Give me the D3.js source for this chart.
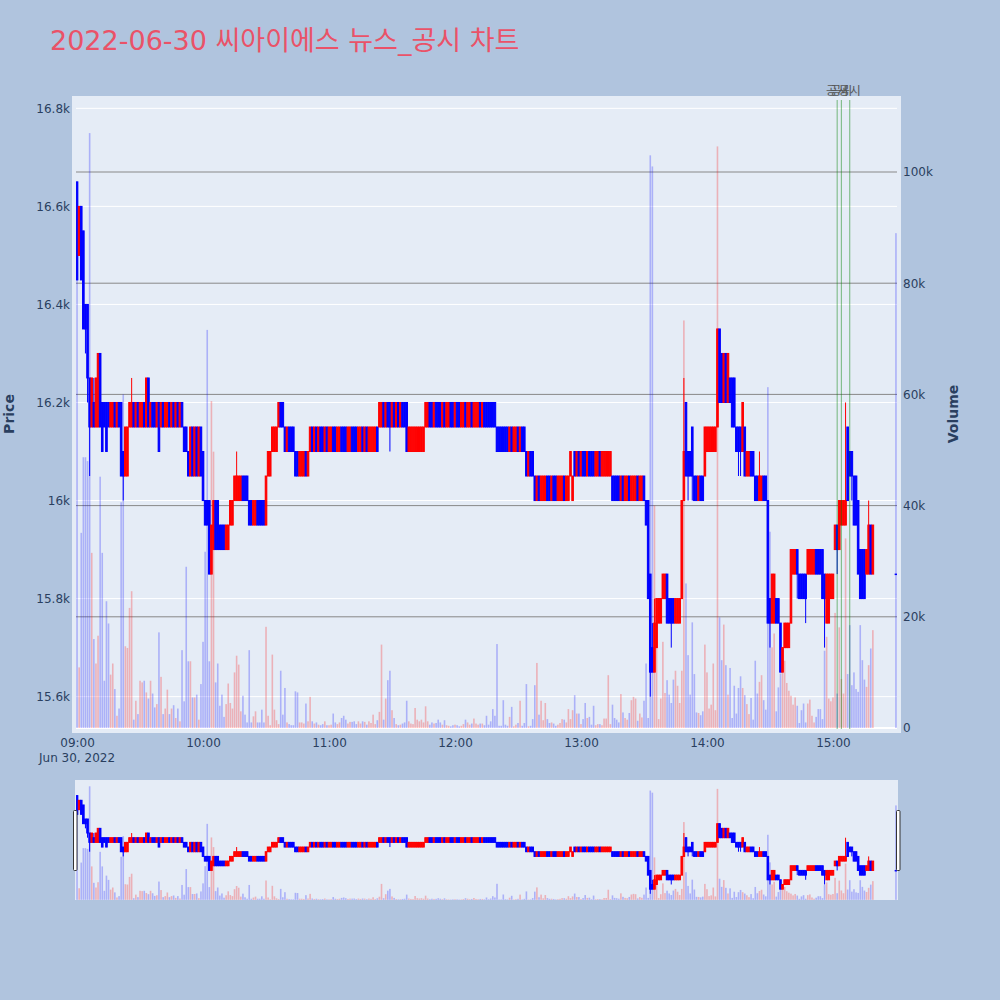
<!DOCTYPE html>
<html>
<head>
<meta charset="utf-8">
<script src="https://cdn.jsdelivr.net/npm/d3@7"></script>
<style>
  body { margin: 0; background: #b0c4de; }
  svg { display: block; font-family: "DejaVu Sans", "Noto Sans CJK KR", sans-serif; }
</style>
</head>
<body>
<div id="chart"></div>
<script>
// one candle per trading minute from 09:00 to 15:19, then the 15:30 closing auction
const opens = [
16650,16500,16600,16550,16400,16400,16250,16150,16200,16150,
16150,16300,16200,16200,16200,16200,16150,16150,16200,16150,
16200,16200,16100,16050,16050,16150,16150,16200,16150,16200,
16150,16150,16200,16150,16250,16150,16200,16200,16150,16200,
16150,16200,16150,16150,16200,16150,16200,16150,16200,16150,
16200,16150,16150,16100,16050,16150,16050,16150,16050,16150,
16100,16000,16000,16000,15850,15900,16000,16000,15950,15950,
15950,15900,15900,15950,15950,16000,16000,16000,16000,16050,
16050,16050,16000,16000,15950,15950,16000,16000,16000,16000,
15950,16050,16050,16100,16100,16100,16150,16200,16200,16150,
16100,16150,16150,16150,16100,16100,16050,16050,16050,16100,
16050,16100,16150,16100,16150,16100,16150,16150,16100,16150,
16100,16100,16150,16150,16100,16100,16150,16150,16150,16100,
16100,16150,16150,16150,16100,16100,16150,16100,16150,16100,
16100,16100,16100,16150,16150,16150,16200,16150,16200,16200,
16150,16200,16150,16200,16150,16200,16200,16200,16100,16100,
16100,16100,16100,16100,16100,16100,16150,16150,16200,16200,
16150,16200,16200,16200,16150,16200,16150,16150,16200,16200,
16150,16200,16200,16150,16150,16200,16150,16150,16200,16150,
16150,16150,16200,16150,16200,16200,16200,16200,16200,16200,
16150,16150,16150,16150,16150,16150,16100,16150,16100,16100,
16150,16100,16150,16150,16100,16050,16100,16100,16050,16000,
16050,16000,16000,16000,16050,16050,16000,16050,16050,16000,
16000,16000,16050,16000,16000,16050,16000,16100,16050,16100,
16050,16100,16100,16050,16100,16100,16100,16050,16050,16100,
16050,16050,16050,16050,16050,16050,16050,16050,16050,16000,
16050,16000,16000,16050,16000,16000,16000,16050,16000,16000,
16050,16000,16000,15850,15700,15650,15700,15750,15750,15800,
15800,15850,15800,15800,15800,15750,15750,15750,15800,16000,
16200,16100,16100,16150,16050,16050,16000,16050,16050,16050,
16100,16100,16100,16100,16100,16150,16350,16300,16200,16300,
16200,16250,16250,16250,16150,16150,16150,16100,16150,16050,
16050,16100,16100,16050,16050,16000,16000,16050,16050,16000,
15800,15750,15750,15800,15800,15750,15650,15700,15700,15700,
15750,15850,15850,15900,15850,15850,15850,15850,15850,15850,
15850,15850,15900,15900,15900,15900,15850,15750,15750,15800,
15800,15900,15950,15900,15950,15950,15950,16150,16100,16100,
16050,16050,16000,15900,15900,15900,15850,15850,15950,15850,
15850
];
const highs = [
16650,16600,16600,16550,16400,16400,16250,16250,16250,16250,
16300,16300,16200,16200,16200,16200,16200,16200,16200,16200,
16200,16200,16100,16150,16150,16200,16250,16200,16200,16200,
16200,16200,16200,16250,16250,16200,16200,16200,16200,16200,
16200,16200,16200,16200,16200,16200,16200,16200,16200,16200,
16200,16150,16150,16100,16150,16150,16150,16150,16150,16150,
16100,16000,16000,16000,15950,16000,16000,16000,15950,15950,
15950,15950,15950,16000,16000,16050,16100,16050,16050,16050,
16050,16050,16000,16000,16000,16000,16000,16000,16000,16000,
16050,16100,16100,16150,16150,16150,16200,16200,16200,16150,
16150,16150,16150,16150,16100,16100,16100,16100,16100,16100,
16100,16150,16150,16150,16150,16150,16150,16150,16150,16150,
16150,16150,16150,16150,16150,16150,16150,16150,16150,16150,
16150,16150,16150,16150,16150,16150,16150,16150,16150,16150,
16150,16150,16150,16150,16200,16200,16200,16200,16200,16200,
16200,16200,16200,16200,16200,16200,16200,16200,16150,16150,
16150,16150,16150,16150,16150,16150,16200,16200,16200,16200,
16200,16200,16200,16200,16200,16200,16200,16200,16200,16200,
16200,16200,16200,16200,16200,16200,16200,16200,16200,16200,
16200,16200,16200,16200,16200,16200,16200,16200,16200,16200,
16150,16150,16150,16150,16150,16150,16150,16150,16150,16150,
16150,16150,16150,16150,16100,16100,16100,16100,16050,16050,
16050,16050,16050,16050,16050,16050,16050,16050,16050,16050,
16050,16050,16050,16050,16050,16100,16050,16100,16100,16100,
16100,16100,16100,16100,16100,16100,16100,16100,16100,16100,
16100,16100,16100,16100,16100,16050,16050,16050,16050,16050,
16050,16050,16050,16050,16050,16050,16050,16050,16050,16050,
16050,16000,16000,15850,15750,15800,15800,15800,15800,15850,
15850,15850,15800,15800,15800,15800,15800,15800,16000,16250,
16200,16100,16100,16150,16050,16050,16050,16050,16050,16150,
16150,16150,16150,16150,16150,16350,16350,16300,16300,16300,
16300,16250,16250,16250,16150,16150,16150,16200,16150,16100,
16100,16100,16100,16050,16050,16100,16050,16050,16050,16000,
15800,15850,15850,15800,15800,15750,15700,15750,15750,15750,
15900,15900,15900,15900,15850,15850,15850,15850,15900,15900,
15900,15900,15900,15900,15900,15900,15850,15850,15850,15850,
15850,15950,15950,16000,16000,16000,16200,16150,16100,16100,
16050,16050,16000,15900,15900,15900,15900,16000,15950,15950,
15850
];
const lows = [
16450,16500,16450,16350,16300,16200,16050,16150,16150,16150,
16150,16150,16100,16150,16100,16150,16150,16150,16150,16150,
16150,16050,16000,16050,16050,16150,16150,16150,16150,16150,
16150,16150,16150,16150,16150,16150,16150,16150,16150,16100,
16150,16150,16150,16150,16150,16150,16150,16150,16150,16150,
16150,16100,16100,16050,16050,16050,16050,16050,16050,16050,
16000,15950,15950,15850,15850,15900,15900,15900,15900,15900,
15900,15900,15900,15950,15950,16000,16000,16000,16000,16000,
16000,16000,15950,15950,15950,15950,15950,15950,15950,15950,
15950,16050,16050,16100,16100,16100,16150,16150,16150,16100,
16100,16100,16100,16100,16050,16050,16050,16050,16050,16050,
16050,16100,16100,16100,16100,16100,16100,16100,16100,16100,
16100,16100,16100,16100,16100,16100,16100,16100,16100,16100,
16100,16100,16100,16100,16100,16100,16100,16100,16100,16100,
16100,16100,16100,16100,16150,16150,16150,16150,16150,16100,
16150,16150,16150,16150,16150,16150,16150,16100,16100,16100,
16100,16100,16100,16100,16100,16100,16150,16150,16150,16150,
16150,16150,16150,16150,16150,16150,16150,16150,16150,16150,
16150,16150,16150,16150,16150,16150,16150,16150,16150,16150,
16150,16150,16150,16150,16150,16150,16150,16150,16150,16150,
16100,16100,16100,16100,16100,16100,16100,16100,16100,16100,
16100,16100,16100,16100,16050,16050,16050,16050,16000,16000,
16000,16000,16000,16000,16000,16000,16000,16000,16000,16000,
16000,16000,16000,16000,16000,16050,16000,16050,16050,16050,
16050,16050,16050,16050,16050,16050,16050,16050,16050,16050,
16050,16050,16050,16050,16050,16000,16000,16000,16000,16000,
16000,16000,16000,16000,16000,16000,16000,16000,16000,16000,
16000,15950,15800,15600,15650,15650,15700,15750,15750,15800,
15800,15750,15750,15700,15750,15750,15750,15750,15800,16000,
16050,16000,16050,16000,16000,16000,16000,16000,16000,16050,
16100,16100,16100,16100,16100,16150,16200,16200,16200,16200,
16200,16200,16150,16150,16100,16050,16050,16100,16050,16050,
16050,16050,16050,16000,16000,16000,16000,16000,16000,15750,
15700,15750,15750,15750,15750,15650,15650,15700,15700,15700,
15750,15850,15850,15800,15800,15800,15800,15750,15850,15850,
15850,15850,15850,15850,15850,15800,15700,15750,15750,15800,
15800,15900,15850,15900,15950,15950,15950,16000,16050,16000,
15950,15950,15850,15800,15800,15800,15850,15850,15850,15850,
15850
];
const closes = [
16450,16600,16450,16350,16350,16250,16150,16250,16150,16250,
16300,16150,16100,16150,16100,16150,16200,16200,16150,16200,
16150,16050,16050,16150,16150,16200,16200,16150,16200,16150,
16200,16200,16150,16250,16150,16200,16150,16150,16200,16100,
16200,16150,16200,16200,16150,16200,16150,16200,16150,16200,
16150,16100,16100,16050,16150,16050,16150,16050,16150,16050,
16000,15950,15950,15850,15950,16000,15900,15900,15900,15900,
15900,15950,15950,16000,16000,16050,16050,16050,16050,16000,
16000,16000,15950,15950,16000,16000,15950,15950,15950,15950,
16050,16100,16100,16150,16150,16150,16200,16150,16150,16100,
16150,16100,16100,16100,16050,16050,16100,16100,16100,16050,
16100,16150,16100,16150,16100,16150,16100,16100,16150,16100,
16150,16150,16100,16100,16150,16150,16100,16100,16100,16150,
16150,16100,16100,16100,16150,16150,16100,16150,16100,16150,
16150,16150,16150,16100,16200,16200,16150,16200,16150,16150,
16200,16150,16200,16150,16200,16150,16150,16100,16150,16150,
16150,16150,16150,16150,16150,16150,16200,16200,16150,16150,
16200,16150,16150,16150,16200,16150,16200,16200,16150,16150,
16200,16150,16150,16200,16200,16150,16200,16200,16150,16200,
16200,16200,16150,16200,16150,16150,16150,16150,16150,16150,
16100,16100,16100,16100,16100,16100,16150,16100,16150,16150,
16100,16150,16100,16100,16050,16100,16050,16050,16000,16050,
16000,16050,16050,16050,16000,16000,16050,16000,16000,16050,
16050,16050,16000,16050,16050,16100,16050,16050,16100,16050,
16100,16050,16050,16100,16050,16050,16050,16100,16100,16050,
16100,16100,16100,16100,16100,16000,16000,16000,16000,16050,
16000,16050,16050,16000,16050,16050,16050,16000,16050,16050,
16000,15950,15800,15650,15650,15750,15800,15800,15800,15850,
15850,15750,15750,15750,15750,15800,15800,15800,16000,16100,
16050,16050,16050,16050,16000,16000,16050,16000,16000,16150,
16150,16150,16150,16150,16150,16350,16200,16200,16300,16200,
16300,16200,16150,16150,16100,16100,16100,16200,16050,16100,
16100,16050,16050,16000,16000,16050,16050,16000,16000,15750,
15750,15850,15850,15750,15750,15650,15700,15750,15750,15750,
15900,15900,15900,15850,15800,15800,15800,15800,15900,15900,
15900,15900,15850,15850,15850,15800,15800,15850,15850,15850,
15850,15950,15900,16000,16000,16000,16000,16000,16050,16050,
15950,15950,15850,15800,15800,15800,15900,15950,15850,15950,
15850
];
const volumes = [
85000,10900,35100,48700,48700,48000,107000,31500,16000,11600,
16600,45200,31500,8500,22800,18800,9600,11600,7000,2200,
3500,40600,60000,14700,14400,21600,24600,1500,4900,2500,
8500,8200,8500,6400,5300,8500,6200,3700,4300,17200,
9200,2500,3500,6900,2500,3500,4100,1800,3500,1200,
14000,4800,29000,12000,12000,5500,5500,6000,1500,7900,
15500,31700,71600,12000,58800,49700,8200,11600,4000,6000,
2000,4300,8000,4500,3500,10000,13000,11400,3000,5800,
2400,1000,14000,1000,2100,3000,1000,1000,3300,1000,
18200,2200,500,13200,3300,1400,700,10300,2400,7200,
1000,700,500,500,6600,6400,1000,1000,800,4400,
1200,5600,1200,800,1000,600,500,700,1200,500,
500,600,2600,1000,700,1000,1800,2200,1500,800,
1100,1100,1200,700,1200,800,1200,1100,600,1200,
900,2400,700,1400,2900,15000,1500,5300,8600,10300,
3200,1800,700,500,600,800,1000,4900,1200,800,
700,3600,1500,1200,1500,1000,3900,1200,600,1000,
800,900,1500,1000,600,1400,500,400,300,500,
600,500,300,400,700,1500,1000,600,800,1700,
800,600,800,800,500,2200,600,1200,3400,2200,
15100,400,400,5000,600,400,2000,3800,300,600,
900,4900,400,900,7900,300,400,1600,7700,11700,
2400,4900,1400,4500,1600,900,1000,800,400,600,
900,1600,1500,1000,3400,1600,3200,5900,2600,2600,
700,1600,4500,1800,2000,600,4000,500,700,700,
500,1700,1700,9500,700,4200,1800,1500,1000,6100,
2800,1800,1500,2700,5000,5600,5300,1300,2600,1900,
4900,11600,1800,103000,101000,40000,15500,1600,5300,15500,
6300,8600,6000,4500,8700,10300,7600,4500,10300,73300,
26000,13100,6000,19000,9700,2800,2700,2300,3000,15000,
10000,3500,4200,11600,3200,104600,19900,12200,18600,11300,
6000,10800,1800,7600,2600,7200,9300,7200,5900,4300,
2500,5400,1500,12100,6200,8300,9500,5000,3300,61300,
35300,14500,17000,3000,7300,9800,11000,12100,8100,6700,
5800,4200,5500,4000,900,3200,4400,1000,4400,5100,
2200,1000,2000,3400,3400,1600,13900,16400,5300,4800,
5500,20700,6200,18100,8800,6200,34100,9700,18500,7700,
10000,7000,6500,18500,12200,8700,7400,11300,14300,17600,
89000
];

const newsTimes = ["15:02", "15:04", "15:08"];
const newsLabels = ["공시", "공시", "공시"];
const priceTicks = [15600, 15800, 16000, 16200, 16400, 16600, 16800];
const volumeTicks = [20000, 40000, 60000, 80000, 100000];
const hourTicks = ["09:00", "10:00", "11:00", "12:00", "13:00", "14:00", "15:00"];
const chartTitle = "2022-06-30 씨아이에스 뉴스_공시 차트";

const parseTime = d3.timeParse("%Y-%m-%d %H:%M");
const day = "2022-06-30 ";
const open0 = parseTime(day + "09:00");
// continuous session 09:00-15:19, closing print at 15:30
const times = d3.range(380).map(i => d3.timeMinute.offset(open0, i))
  .concat([parseTime(day + "15:30")]);

const n = times.length;
if ([opens, highs, lows, closes, volumes].some(a => a.length !== n)) {
  throw new Error("length mismatch " + [opens, highs, lows, closes, volumes].map(a => a.length));
}

const data = times.map((t, i) => ({
  t: t, o: opens[i], h: highs[i], l: lows[i], c: closes[i], v: volumes[i],
  up: closes[i] > opens[i]
}));

const width = 1000, height = 1000;
const plot = { l: 76, r: 897, t: 100, b: 729 };
const slider = { t: 780, b: 900 };

const half = 30 * 1000;  // half a minute padding
const x = d3.scaleTime()
  .domain([new Date(times[0].getTime() - half), new Date(times[n - 1].getTime() + half)])
  .range([plot.l, plot.r]);
const yPrice = d3.scaleLinear().domain([15534, 16817]).range([plot.b, plot.t]);
const yVol = d3.scaleLinear().domain([-180, 112950]).range([plot.b, plot.t]);
const ySPrice = d3.scaleLinear().domain(yPrice.domain()).range([slider.b, slider.t]);
const ySVol = d3.scaleLinear().domain(yVol.domain()).range([slider.b, slider.t]);

const svg = d3.select("#chart").append("svg")
  .attr("width", width)
  .attr("height", height);

svg.append("rect").attr("width", width).attr("height", height).attr("fill", "#b0c4de");

svg.append("text")
  .attr("x", 50)
  .attr("y", 50)
  .attr("font-size", 27)
  .attr("fill", "#ea5268")
  .text(chartTitle);

// main plot background
svg.append("rect")
  .attr("x", plot.l - 4).attr("y", plot.t - 4)
  .attr("width", plot.r - plot.l + 8).attr("height", plot.b - plot.t + 8)
  .attr("fill", "#e5ecf6");

svg.append("clipPath").attr("id", "clipMain")
  .append("rect").attr("x", plot.l).attr("y", plot.t)
  .attr("width", plot.r - plot.l).attr("height", plot.b - plot.t);

// price grid (white) and volume grid (grey)
svg.append("g").selectAll("line")
  .data(priceTicks)
  .enter().append("line")
  .attr("x1", plot.l).attr("x2", plot.r)
  .attr("y1", d => yPrice(d)).attr("y2", d => yPrice(d))
  .attr("stroke", "#fff").attr("stroke-width", 1);

svg.append("line")
  .attr("x1", plot.l).attr("x2", plot.r)
  .attr("y1", yVol(0)).attr("y2", yVol(0))
  .attr("stroke", "#fff").attr("stroke-width", 2);

svg.append("g").selectAll("line")
  .data(volumeTicks)
  .enter().append("line")
  .attr("x1", plot.l).attr("x2", plot.r)
  .attr("y1", d => yVol(d)).attr("y2", d => yVol(d))
  .attr("stroke", "#888").attr("stroke-width", 1);

function drawSeries(g, xs, yp, yv) {
  g.append("g").selectAll("rect")
    .data(data)
    .enter().append("rect")
    .attr("x", d => xs(d.t) - 0.8)
    .attr("width", 1.6)
    .attr("y", d => yv(d.v))
    .attr("height", d => Math.max(0, yv(0) - yv(d.v)))
    .attr("fill", d => d.up ? "red" : "blue")
    .attr("opacity", 0.25);

  const candle = g.append("g").selectAll("g")
    .data(data)
    .enter().append("g");

  candle.append("line")
    .attr("x1", d => xs(d.t)).attr("x2", d => xs(d.t))
    .attr("y1", d => yp(d.h)).attr("y2", d => yp(d.l))
    .attr("stroke", d => d.up ? "red" : "blue")
    .attr("stroke-width", 1);

  candle.append("rect")
    .attr("x", d => xs(d.t) - 0.8)
    .attr("width", 1.6)
    .attr("y", d => yp(Math.max(d.o, d.c)))
    .attr("height", d => Math.max(0.5, Math.abs(yp(d.o) - yp(d.c))))
    .attr("fill", d => d.up ? "red" : "blue")
    .attr("stroke", d => d.up ? "red" : "blue")
    .attr("stroke-width", 1);
}

drawSeries(svg.append("g").attr("clip-path", "url(#clipMain)"), x, yPrice, yVol);

// news markers (labels overlap on purpose, as in the source chart)
const newsG = svg.append("g");
newsTimes.forEach((s, i) => {
  const xx = x(parseTime(day + s));
  newsG.append("line")
    .attr("x1", xx).attr("x2", xx)
    .attr("y1", plot.t).attr("y2", plot.b)
    .attr("stroke", "green").attr("stroke-opacity", 0.5).attr("stroke-width", 1);
  newsG.append("text")
    .attr("x", xx).attr("y", 95)
    .attr("text-anchor", "middle")
    .attr("font-size", 12)
    .attr("fill", "#555")
    .text(newsLabels[i]);
});

// axes
const tickColor = "#2a3f5f";
const left = svg.append("g")
  .attr("transform", `translate(${plot.l},0)`)
  .call(d3.axisLeft(yPrice).tickValues(priceTicks).tickFormat(d3.format("~s")).tickSize(0).tickPadding(6));
const right = svg.append("g")
  .attr("transform", `translate(${plot.r},0)`)
  .call(d3.axisRight(yVol).tickValues([0].concat(volumeTicks)).tickFormat(d3.format("~s")).tickSize(0).tickPadding(6));
const bottom = svg.append("g")
  .attr("transform", `translate(0,${plot.b + 4})`)
  .call(d3.axisBottom(x)
    .tickValues(hourTicks.map(h => parseTime(day + h)))
    .tickFormat(d3.timeFormat("%H:%M")).tickSize(0).tickPadding(5));

[left, right, bottom].forEach(a => {
  a.select(".domain").remove();
  a.selectAll("text")
    .attr("font-size", 12)
    .attr("fill", tickColor)
    .attr("font-family", "'DejaVu Sans', sans-serif");
});

svg.append("text")
  .attr("x", x(open0)).attr("y", 762)
  .attr("text-anchor", "middle")
  .attr("font-size", 12)
  .attr("fill", tickColor)
  .text("Jun 30, 2022");

svg.append("text")
  .attr("transform", "translate(14,414) rotate(-90)")
  .attr("text-anchor", "middle")
  .attr("font-size", 14)
  .attr("font-weight", "bold")
  .attr("fill", tickColor)
  .text("Price");

svg.append("text")
  .attr("transform", "translate(958,414) rotate(-90)")
  .attr("text-anchor", "middle")
  .attr("font-size", 14)
  .attr("font-weight", "bold")
  .attr("fill", tickColor)
  .text("Volume");

// range slider
svg.append("rect")
  .attr("x", plot.l - 1).attr("y", slider.t)
  .attr("width", plot.r - plot.l + 2).attr("height", slider.b - slider.t)
  .attr("fill", "#e5ecf6");

svg.append("clipPath").attr("id", "clipSlider")
  .append("rect").attr("x", plot.l).attr("y", slider.t)
  .attr("width", plot.r - plot.l).attr("height", slider.b - slider.t);

drawSeries(svg.append("g").attr("clip-path", "url(#clipSlider)"), x, ySPrice, ySVol);

[plot.l - 3, plot.r - 1].forEach(hx => {
  svg.append("rect")
    .attr("x", hx + 0.5).attr("y", 810.5)
    .attr("width", 3.5).attr("height", 60)
    .attr("rx", 1)
    .attr("fill", "#fff")
    .attr("stroke", "#333")
    .attr("stroke-width", 1);
});
</script>
</body>
</html>
